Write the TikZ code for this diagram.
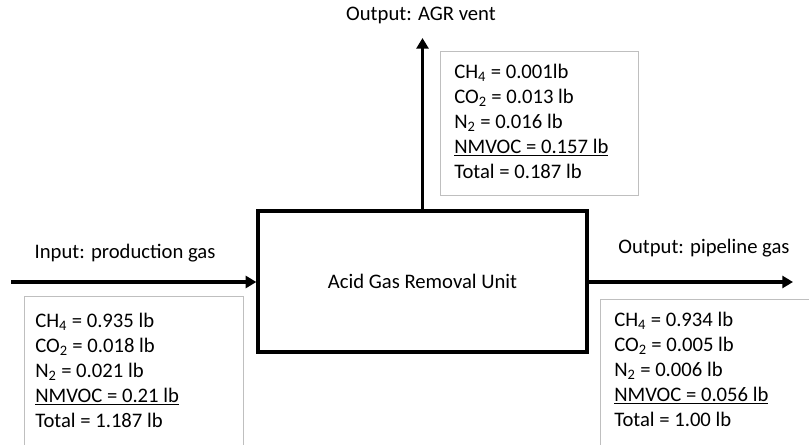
\documentclass[tikz,border=0pt]{standalone}
\usepackage{fontspec}
\setmainfont{Carlito}
\usetikzlibrary{arrows.meta}

\begin{document}
\begin{tikzpicture}[x=0.75pt, y=-0.75pt,
	flow/.style={line width=2.6pt, -{Triangle[length=8pt, width=9pt]}},
	flowlabel/.style={font=\fontsize{15.5}{18.75}\selectfont},
	unitbox/.style={draw, line width=2.5pt, minimum width=246.75pt, minimum height=105.75pt},
	massbox/.style={draw=black!25, line width=0.8pt, anchor=north west},
	masstext/.style={anchor=north west, align=left, inner sep=0pt, font=\fontsize{15.5}{18.75}\selectfont}]

	\clip (0, 0) rectangle (809, 445);

	% unit and streams
	\node[unitbox, flowlabel] (agr) at (422.5, 281.5) {Acid Gas Removal Unit};

	\coordinate (inlet) at (11, 282);
	\coordinate (vent) at (422.5, 38);
	\coordinate (outlet) at (793, 282);

	\draw[flow] (inlet) -- (agr.west |- inlet);
	\draw[flow] (agr.north) -- (vent);
	\draw[flow] (agr.east |- outlet) -- (outlet);

	\node[flowlabel] (inlabel) at (125, 253) {Input: production gas};
	\node[flowlabel] (ventlabel) at (421, 15) {Output: AGR vent};
	\node[flowlabel] (outlabel) at (704, 248) {Output: pipeline gas};

	% mass boxes
	\node[massbox, minimum width=164.25pt, minimum height=150pt] (inbox) at (24, 296) {};
	\node[massbox, minimum width=148.5pt, minimum height=108pt] (ventbox) at (440, 51) {};
	\node[massbox, minimum width=172.5pt, minimum height=150pt] (outbox) at (600, 299) {};

	\node[masstext] (intext) at (35, 313) {CH\textsubscript{4} = 0.935 lb\\ CO\textsubscript{2} = 0.018 lb\\ N\textsubscript{2} = 0.021 lb\\ \underline{NMVOC = 0.21 lb}\\ Total = 1.187 lb};
	\node[masstext] (venttext) at (454, 64) {CH\textsubscript{4} = 0.001lb\\ CO\textsubscript{2} = 0.013 lb\\ N\textsubscript{2} = 0.016 lb\\ \underline{NMVOC = 0.157 lb}\\ Total = 0.187 lb};
	\node[masstext] (outtext) at (614, 312) {CH\textsubscript{4} = 0.934 lb\\ CO\textsubscript{2} = 0.005 lb\\ N\textsubscript{2} = 0.006 lb\\ \underline{NMVOC = 0.056 lb}\\ Total = 1.00 lb};

\end{tikzpicture}
\end{document}
